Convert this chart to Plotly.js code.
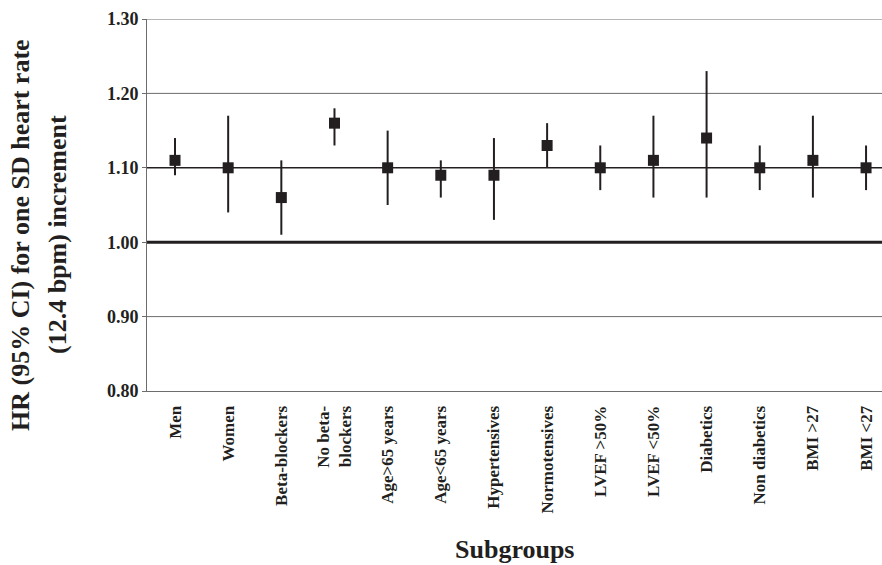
<!DOCTYPE html>
<html>
<head>
<meta charset="utf-8">
<script src="https://cdn.plot.ly/plotly-3.0.1.min.js"></script>
<style>html,body{margin:0;padding:0;background:#fff;}#chart{width:882px;height:565px;}</style>
</head>
<body>
<div id="chart"></div>
<script>
const categories = ["Men", "Women", "Beta-blockers", "No beta-<br>blockers", "Age>65 years", "Age<65 years",
  "Hypertensives", "Normotensives", "LVEF >50%", "LVEF <50%", "Diabetics", "Non diabetics", "BMI >27", "BMI <27"];
const hr    = [1.11, 1.10, 1.06, 1.16, 1.10, 1.09, 1.09, 1.13, 1.10, 1.11, 1.14, 1.10, 1.11, 1.10];
const upper = [1.14, 1.17, 1.11, 1.18, 1.15, 1.11, 1.14, 1.16, 1.13, 1.17, 1.23, 1.13, 1.17, 1.13];
const lower = [1.09, 1.04, 1.01, 1.13, 1.05, 1.06, 1.03, 1.10, 1.07, 1.06, 1.06, 1.07, 1.06, 1.07];
const yTicks = [0.80, 0.90, 1.00, 1.10, 1.20, 1.30];
const gridLines = [0.90, 1.20, 1.30];
const refLines = [1.10, 1.00];

const ink = "#231f20";
const grey = "#6d6d6d";
const fontFam = "Liberation Serif, Times New Roman, serif";

const trace = {
  type: "scatter",
  mode: "markers",
  x: categories,
  y: hr,
  marker: {symbol: "square", size: 11, color: ink},
  error_y: {
    type: "data", symmetric: false,
    array: upper.map((u, i) => u - hr[i]),
    arrayminus: lower.map((l, i) => hr[i] - l),
    thickness: 2, width: 0, color: ink
  },
  cliponaxis: false,
  hoverinfo: "skip"
};

const layout = {
  width: 882, height: 565,
  margin: {l: 147, r: 0, t: 19, b: 174},
  paper_bgcolor: "#fff", plot_bgcolor: "#fff",
  showlegend: false,
  font: {family: fontFam, color: ink, size: 17, weight: "bold"},
  xaxis: {
    type: "category",
    range: [-0.527, 13.3],
    tickangle: -90,
    ticks: "outside", ticklen: 7, tickcolor: "rgba(0,0,0,0)",
    tickfont: {family: fontFam, size: 17, color: ink, weight: "bold"},
    showgrid: false, zeroline: false,
    showline: true, linecolor: grey, linewidth: 1,
    automargin: false
  },
  yaxis: {
    range: [0.80, 1.30],
    tickvals: yTicks,
    ticktext: yTicks.map(v => v.toFixed(2)),
    ticks: "outside", ticklen: 4, tickcolor: grey,
    tickfont: {family: fontFam, size: 18, color: ink, weight: "bold"},
    showgrid: false,
    zeroline: false,
    showline: true, linecolor: grey, linewidth: 1,
    automargin: false
  },
  shapes: gridLines.map(v => ({
    type: "line", xref: "paper", x0: 0, x1: 1, yref: "y", y0: v, y1: v,
    line: {color: grey, width: 1}, layer: "between"
  })).concat(refLines.map(v => ({
    type: "line", xref: "paper", x0: 0, x1: 1, yref: "y", y0: v, y1: v,
    line: {color: ink, width: v === 1.00 ? 3 : 1.5}, layer: "between"
  }))),
  annotations: [
    {text: "HR (95% CI) for one SD heart rate", xref: "paper", yref: "paper", x: 0, y: (391 - 235) / 372,
     xshift: -126, textangle: -90, showarrow: false, xanchor: "center", yanchor: "middle",
     font: {family: fontFam, size: 26, color: ink, weight: "bold"}},
    {text: "(12.4 bpm) increment", xref: "paper", yref: "paper", x: 0, y: (391 - 235) / 372,
     xshift: -89, textangle: -90, showarrow: false, xanchor: "center", yanchor: "middle",
     font: {family: fontFam, size: 26, color: ink, weight: "bold"}},
    {text: "Subgroups", xref: "paper", yref: "paper", x: 0.5, y: 0, yshift: -158,
     showarrow: false, xanchor: "center", yanchor: "middle",
     font: {family: fontFam, size: 26, color: ink, weight: "bold"}}
  ]
};

Plotly.newPlot("chart", [trace], layout, {staticPlot: true, displayModeBar: false});
</script>
</body>
</html>
